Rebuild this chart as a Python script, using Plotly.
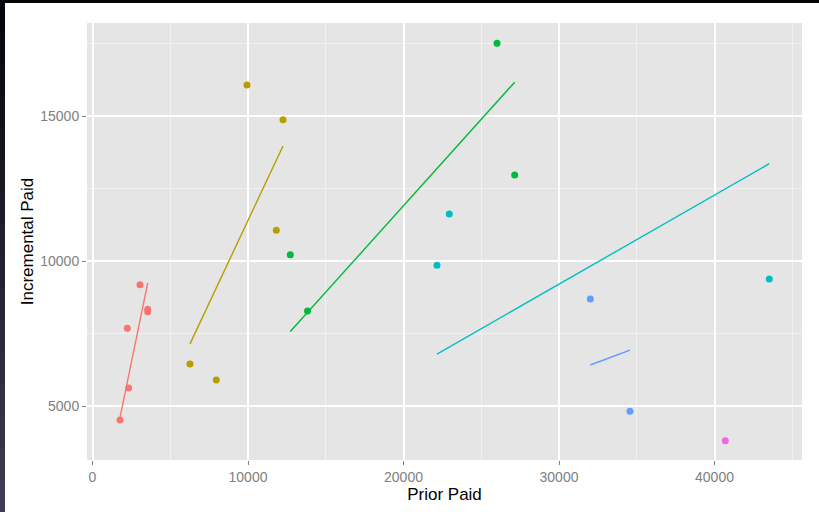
import numpy as np
import plotly.graph_objects as go

# Prior paid vs incremental paid, one group per development period
prior_1 = [1768, 2328, 2240, 3055, 3550, 3550]
incr_1 = [4528, 5631, 7690, 9193, 8345, 8262]

prior_2 = [9936, 12251, 11820, 6270, 7961]
incr_2 = [16079, 14883, 11069, 6459, 5907]

prior_3 = [26013, 27151, 12720, 13826]
incr_3 = [17517, 12976, 10228, 8286]

prior_4 = [22945, 22154, 43524]
incr_4 = [11631, 9862, 9390]

prior_5 = [32013, 34566]
incr_5 = [8700, 4828]

prior_6 = [40695]
incr_6 = [3814]

x_ticks = [0, 10000, 20000, 30000, 40000]
y_ticks = [5000, 10000, 15000]

groups = [
    (prior_1, incr_1, "#F8766D"),
    (prior_2, incr_2, "#B79F00"),
    (prior_3, incr_3, "#00BA38"),
    (prior_4, incr_4, "#00BFC4"),
    (prior_5, incr_5, "#619CFF"),
    (prior_6, incr_6, "#F564E3"),
]

W, H = 819, 512
ML, MR, MT, MB = 87, 17, 23, 52

fig = go.Figure()

for xs, ys, col in groups:
    x = np.array(xs, dtype=float)
    y = np.array(ys, dtype=float)
    # least-squares line through the origin, drawn over the group's x span
    if len(x) > 1:
        slope = (x * y).sum() / (x * x).sum()
        lx = np.array([x.min(), x.max()])
        fig.add_trace(go.Scatter(x=lx, y=slope * lx, mode="lines",
                                 line=dict(color=col, width=1.4),
                                 hoverinfo="skip", showlegend=False))
    fig.add_trace(go.Scatter(x=x, y=y, mode="markers",
                             marker=dict(color=col, size=7),
                             showlegend=False))

# dark edges around the page
pw = W - ML - MR
ph = H - MT - MB


def px_x(p):
    return (p - ML) / pw


def px_y(r):
    return (H - MB - r) / ph


shapes = [dict(type="rect", xref="paper", yref="paper",
               x0=px_x(0), x1=px_x(W), y0=px_y(3), y1=px_y(0),
               fillcolor="#05060a", line=dict(width=0), layer="above")]
n = 16
c0 = np.array([6, 6, 12])
c1 = np.array([62, 60, 80])
for i in range(n):
    t = i / (n - 1)
    c = (c0 + (c1 - c0) * t).astype(int)
    shapes.append(dict(type="rect", xref="paper", yref="paper",
                       x0=px_x(0), x1=px_x(5),
                       y0=px_y(H * (i + 1) / n), y1=px_y(H * i / n),
                       fillcolor="rgb(%d,%d,%d)" % tuple(c),
                       line=dict(width=0), layer="above"))

axis_common = dict(
    showline=False, zeroline=False,
    gridcolor="#FFFFFF", gridwidth=1.6,
    ticks="outside", ticklen=4, tickwidth=1, tickcolor="#7F7F7F",
    tickfont=dict(family="Liberation Sans, Arial, sans-serif", size=14, color="#808080"),
)

fig.update_layout(
    width=W, height=H,
    margin=dict(l=ML, r=MR, t=MT, b=MB),
    paper_bgcolor="#FFFFFF",
    plot_bgcolor="#E5E5E5",
    shapes=shapes,
    xaxis=dict(
        range=[-354, 45627],
        tickvals=x_ticks, ticktext=[str(v) for v in x_ticks],
        minor=dict(dtick=5000, tick0=0, showgrid=True, gridcolor="#F2F2F2", gridwidth=1, ticks=""),
        title=dict(text="Prior Paid", standoff=2,
                   font=dict(family="Liberation Sans, Arial, sans-serif", size=17, color="#000000")),
        **axis_common,
    ),
    yaxis=dict(
        range=[3148, 18217],
        tickvals=y_ticks, ticktext=[str(v) for v in y_ticks],
        minor=dict(dtick=2500, tick0=0, showgrid=True, gridcolor="#F2F2F2", gridwidth=1, ticks=""),
        title=dict(text="Incremental Paid", standoff=2,
                   font=dict(family="Liberation Sans, Arial, sans-serif", size=17, color="#000000")),
        **axis_common,
    ),
)

fig.write_html("out.html")
